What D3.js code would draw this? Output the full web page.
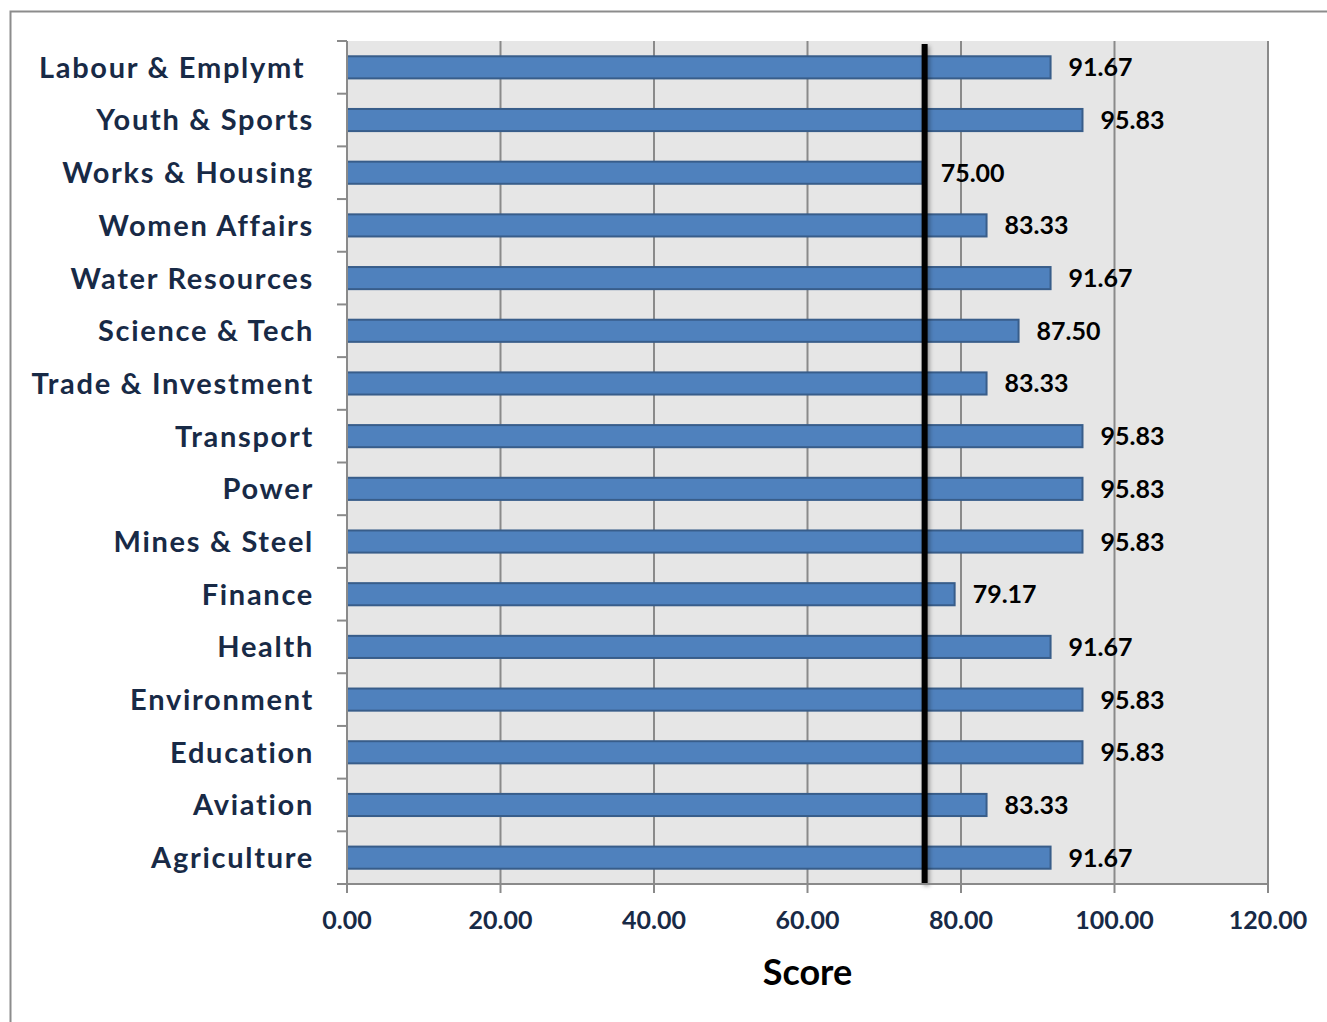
<!DOCTYPE html>
<html>
<head>
<meta charset="utf-8">
<script src="https://cdn.jsdelivr.net/npm/d3@7"></script>
<style>
  body { margin: 0; background: #fff; }
  svg { display: block; font-family: Lato, "Open Sans", sans-serif; }
</style>
</head>
<body>
<svg id="chart" width="1327" height="1022"></svg>
<script>
// ministries, top to bottom as drawn
const categories = [
  "Labour & Emplymt ", "Youth & Sports", "Works & Housing", "Women Affairs",
  "Water Resources", "Science & Tech", "Trade & Investment", "Transport",
  "Power", "Mines & Steel", "Finance", "Health", "Environment",
  "Education", "Aviation", "Agriculture"
];
const scores = [
  91.67, 95.83, 75.00, 83.33, 91.67, 87.50, 83.33, 95.83,
  95.83, 95.83, 79.17, 91.67, 95.83, 95.83, 83.33, 91.67
];
const xTicks = [0, 20, 40, 60, 80, 100, 120];
const benchmark = 75;

const svg = d3.select('#chart');
const margin = {left: 347, right: 59, top: 41, bottom: 138};
const width = +svg.attr('width');
const height = +svg.attr('height');

// outer chart frame (extends past the page edge)
svg.append('rect')
  .attr('x', 10.5).attr('y', 11.5)
  .attr('width', 1400).attr('height', 1100)
  .attr('fill', 'none').attr('stroke', '#8c8c8c').attr('stroke-width', 2);

const x = d3.scaleLinear().domain([0, 120]).range([margin.left, width - margin.right]);
const y = d3.scaleBand().domain(categories)
  .range([margin.top, height - margin.bottom])
  .paddingInner(0.58).paddingOuter(0.29);

const plotBottom = height - margin.bottom;

svg.append('rect')
  .attr('x', x(0)).attr('y', margin.top)
  .attr('width', x(120) - x(0)).attr('height', plotBottom - margin.top)
  .attr('fill', '#e6e6e6');

// vertical gridlines
svg.append('g').selectAll('line')
  .data(xTicks.slice(1))
  .enter().append('line')
  .attr('x1', d => x(d)).attr('x2', d => x(d))
  .attr('y1', margin.top).attr('y2', plotBottom)
  .attr('stroke', '#8a8a8a').attr('stroke-width', 2);

// bars
svg.append('g').selectAll('rect')
  .data(categories)
  .enter().append('rect')
  .attr('x', x(0))
  .attr('y', d => y(d))
  .attr('width', (d, i) => x(scores[i]) - x(0))
  .attr('height', y.bandwidth())
  .attr('fill', '#4f81bd')
  .attr('stroke', '#385d8a')
  .attr('stroke-width', 2);

// benchmark line with soft shadow
svg.append('defs').append('filter').attr('id', 'shadow')
  .attr('filterUnits', 'userSpaceOnUse')
  .attr('x', 0).attr('y', 0).attr('width', width).attr('height', height)
  .append('feDropShadow')
  .attr('dx', 2).attr('dy', 2).attr('stdDeviation', 2)
  .attr('flood-color', '#000').attr('flood-opacity', 0.35);

svg.append('rect')
  .attr('x', x(benchmark) - 1).attr('width', 6)
  .attr('y', 44).attr('height', plotBottom - 44)
  .attr('fill', '#000')
  .attr('filter', 'url(#shadow)');

// value labels
svg.append('g').selectAll('text')
  .data(categories)
  .enter().append('text')
  .attr('x', (d, i) => x(scores[i]) + 18)
  .attr('y', d => y(d) + y.bandwidth() / 2)
  .attr('dy', '0.36em')
  .attr('font-size', 25)
  .attr('font-weight', 700)
  .attr('fill', '#000')
  .text((d, i) => scores[i].toFixed(2));

// y axis
const yAxis = svg.append('g')
  .attr('transform', `translate(${x(0)},0)`);
yAxis.append('line')
  .attr('x1', 0).attr('x2', 0)
  .attr('y1', margin.top).attr('y2', plotBottom + 1)
  .attr('stroke', '#8a8a8a').attr('stroke-width', 2);
yAxis.selectAll('line.tick')
  .data(d3.range(categories.length + 1))
  .enter().append('line')
  .attr('class', 'tick')
  .attr('x1', -10).attr('x2', 0)
  .attr('y1', i => margin.top + i * (plotBottom - margin.top) / categories.length)
  .attr('y2', i => margin.top + i * (plotBottom - margin.top) / categories.length)
  .attr('stroke', '#8a8a8a').attr('stroke-width', 2);
yAxis.selectAll('text')
  .data(categories)
  .enter().append('text')
  .attr('x', -33)
  .attr('y', d => y(d) + y.bandwidth() / 2)
  .attr('dy', '0.36em')
  .attr('text-anchor', 'end')
  .attr('font-size', 29)
  .attr('font-weight', 700)
  .attr('letter-spacing', 1.7)
  .style('white-space', 'pre')
  .attr('fill', '#182a46')
  .text(d => d);

// x axis
const xAxis = svg.append('g')
  .attr('transform', `translate(0,${plotBottom})`);
xAxis.append('line')
  .attr('x1', x(0) - 10).attr('x2', x(120))
  .attr('stroke', '#8a8a8a').attr('stroke-width', 2);
xAxis.selectAll('line.tick')
  .data(xTicks)
  .enter().append('line')
  .attr('class', 'tick')
  .attr('x1', d => x(d)).attr('x2', d => x(d))
  .attr('y1', 0).attr('y2', 9)
  .attr('stroke', '#8a8a8a').attr('stroke-width', 2);
xAxis.selectAll('text')
  .data(xTicks)
  .enter().append('text')
  .attr('x', d => x(d))
  .attr('y', 45)
  .attr('text-anchor', 'middle')
  .attr('font-size', 25)
  .attr('font-weight', 700)
  .attr('fill', '#182a46')
  .text(d => d.toFixed(2));

svg.append('text')
  .attr('x', x(60))
  .attr('y', 985)
  .attr('text-anchor', 'middle')
  .attr('font-size', 36)
  .attr('font-weight', 700)
  .attr('fill', '#000')
  .text('Score');
</script>
</body>
</html>
